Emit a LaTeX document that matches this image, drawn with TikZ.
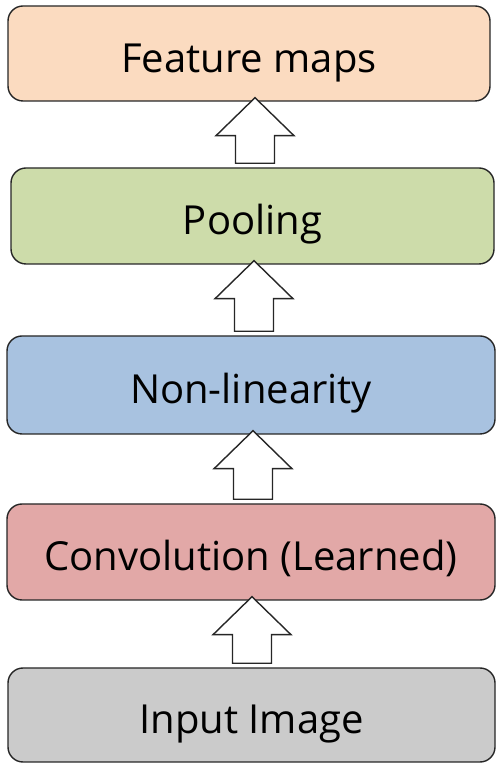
\documentclass[tikz,border=0pt]{standalone}
\usepackage{fontspec}
\setmainfont{Open Sans}
\usetikzlibrary{calc}
\definecolor{cfeat}{HTML}{FBDBC0}
\definecolor{cpool}{HTML}{CDDCAA}
\definecolor{cnonlin}{HTML}{A8C2E0}
\definecolor{cconv}{HTML}{E2A8A7}
\definecolor{cinput}{HTML}{CBCBCB}
\tikzset{
  stagebox/.style={draw=black!85, line width=1.4pt, rounded corners=15pt,
    inner sep=0pt, text height=38pt, text depth=0pt,
    font=\fontsize{40}{46}\selectfont, text=black},
  blockarrow/.style={draw=black!85, fill=white, line width=1.4pt, line join=miter}
}
\newcommand\blockup[3]{%
  \draw[blockarrow] let \p1=(#1.north), \p2=(#2.south) in
   (#3pt-19.5pt,\y1+4pt) -- (#3pt+19.5pt,\y1+4pt) -- (#3pt+19.5pt,\y2-34pt)
   -- (#3pt+39pt,\y2-34pt) -- (#3pt,\y2+4pt) -- (#3pt-39pt,\y2-34pt)
   -- (#3pt-19.5pt,\y2-34pt) -- cycle;}
\begin{document}
\begin{tikzpicture}[x=1pt,y=1pt]
\useasboundingbox (0,0) rectangle (496,763);
\node[stagebox, fill=cfeat, minimum width=482pt, minimum height=95pt] (feat) at (249,709.5) {Feature maps};
\node[stagebox, fill=cpool, minimum width=483pt, minimum height=96pt] (pool) at (252.5,547) {Pooling};
\node[stagebox, fill=cnonlin, minimum width=488pt, minimum height=98pt] (nonlin) at (251,378) {Non-linearity};
\node[stagebox, fill=cconv, minimum width=488pt, minimum height=96pt] (conv) at (251,211) {Convolution (Learned)};
\node[stagebox, fill=cinput, minimum width=487pt, minimum height=94pt] (input) at (251.5,48) {Input Image};
\blockup{pool}{feat}{255}
\blockup{nonlin}{pool}{254}
\blockup{conv}{nonlin}{253}
\blockup{input}{conv}{252}
\end{tikzpicture}
\end{document}
